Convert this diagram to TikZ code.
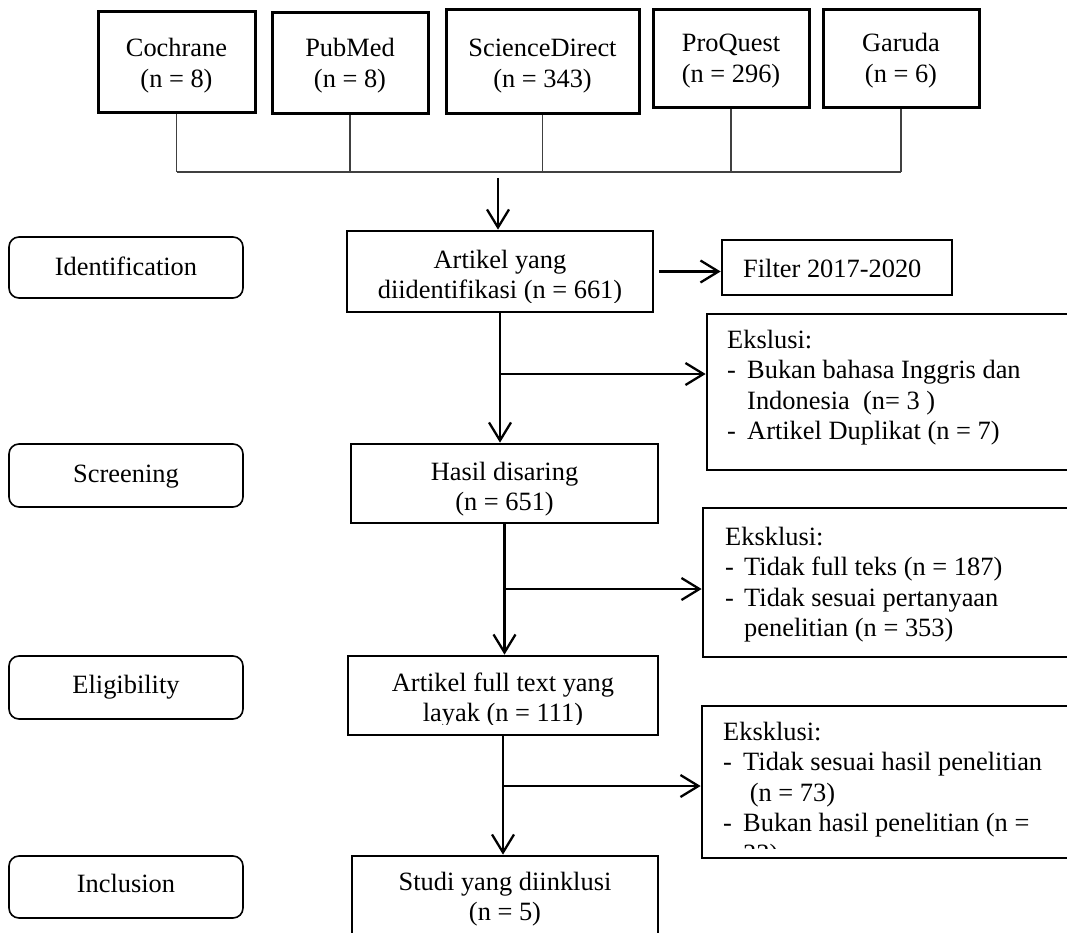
\documentclass[tikz,border=0pt]{standalone}
\usepackage{fontspec}
\setmainfont{Liberation Serif}
\usetikzlibrary{arrows.meta,fit}
\newcommand\twol[2]{\begin{tabular}[t]{@{}c@{}}#1\\#2\end{tabular}}
\begin{document}
\begin{tikzpicture}[x=1pt,y=-1pt,
  txt/.style={inner sep=0pt, anchor=base, font=\fontsize{26.4}{30.6}\selectfont},
  ltxt/.style={txt, anchor=base west},
  srcbox/.style={draw, line width=3pt, inner sep=0pt},
  mainbox/.style={draw, line width=2.7pt, inner sep=0pt},
  stagebox/.style={draw, line width=1.6pt, rounded corners=10pt, inner sep=0pt},
  busline/.style={line width=1.3pt, draw=black!75},
  flow/.style={line width=2.3pt, -{Straight Barb[length=18pt,width=22pt,line width=2.3pt]}},
]
\clip (0,0) rectangle (1067,933);
\fill[white] (0,0) rectangle (1067,933);

% ---- source boxes
\node[srcbox, fit={(98,12)(255,113)}] (coch) {};
\node[txt] (coch-t) at (176.5,57) {\twol{Cochrane}{(n = 8)}};
\node[srcbox, fit={(272,13)(428,114)}] (pub) {};
\node[txt] (pub-t) at (350,57) {\twol{PubMed}{(n = 8)}};
\node[srcbox, fit={(446,10)(639,114)}] (sci) {};
\node[txt] (sci-t) at (542.5,57) {\twol{ScienceDirect}{(n = 343)}};
\node[srcbox, fit={(653,10)(809,108)}] (pro) {};
\node[txt] (pro-t) at (731,52) {\twol{ProQuest}{(n = 296)}};
\node[srcbox, fit={(823,10)(979,108)}] (gar) {};
\node[txt] (gar-t) at (901,52) {\twol{Garuda}{(n = 6)}};

% ---- bus
\coordinate (busL) at (176.5,172);
\coordinate (busR) at (901,172);
\draw[busline] (busL) -- (busR);
\draw[busline] (coch.south) -- (coch.south |- busL);
\draw[busline] (pub.south) -- (pub.south |- busL);
\draw[busline] (sci.south) -- (sci.south |- busL);
\draw[busline] (pro.south) -- (pro.south |- busL);
\draw[busline] (gar.south) -- (gar.south |- busL);

% ---- stage boxes
\node[stagebox, fit={(9,237)(243,298)}] (st1) {};
\node[txt] (st1-t) at (126,275) {Identification};
\node[stagebox, fit={(9,444)(243,507)}] (st2) {};
\node[txt] (st2-t) at (126,482) {Screening};
\node[stagebox, fit={(9,656)(243,719)}] (st3) {};
\node[txt] (st3-t) at (126,693) {Eligibility};
\node[stagebox, fit={(9,856)(243,918)}] (st4) {};
\node[txt] (st4-t) at (126,892) {Inclusion};

% ---- main boxes
\node[mainbox, fit={(347,231)(653,312)}] (art) {};
\begin{scope}
\clip (347,231) rectangle (653,302.5);
\node[txt] (art-t) at (500,268) {\twol{Artikel yang}{diidentifikasi (n = 661)}};
\end{scope}
\node[mainbox, fit={(351,444)(658,523)}] (has) {};
\node[txt] (has-t) at (504.5,480) {\twol{Hasil disaring}{(n = 651)}};
\node[mainbox, fit={(348,656)(658,735)}] (ful) {};
\begin{scope}
\clip (348,656) rectangle (658,724);
\node[txt] (ful-t) at (503,691) {\twol{Artikel full text yang}{layak (n = 111)}};
\end{scope}
\node[mainbox, fit={(352,856)(658,960)}] (stu) {};
\node[txt] (stu-t) at (505,890) {\twol{Studi yang diinklusi}{(n = 5)}};

% ---- filter box
\node[mainbox, fit={(722,240)(952,295)}] (fil) {};
\node[ltxt] (fil-t) at (743,277) {Filter 2017-2020};

% ---- exclusion boxes
\node[mainbox, fit={(707,314)(1090,470)}] (ex1) {};
\node[ltxt] (ex1-t) at (727,348) {\begin{tabular}[t]{@{}l@{}}Ekslusi:\\
\makebox[20pt][l]{-}Bukan bahasa Inggris dan\\
\hspace*{20pt}Indonesia\ \ (n= 3 )\\
\makebox[20pt][l]{-}Artikel Duplikat (n = 7)\end{tabular}};

\node[mainbox, fit={(703,508)(1090,657)}] (ex2) {};
\node[ltxt] (ex2-t) at (725,545) {\begin{tabular}[t]{@{}l@{}}Eksklusi:\\
\makebox[19pt][l]{-}Tidak full teks (n = 187)\\
\makebox[19pt][l]{-}Tidak sesuai pertanyaan\\
\hspace*{19pt}penelitian (n = 353)\end{tabular}};

\node[mainbox, fit={(702,706)(1090,858)}] (ex3) {};
\begin{scope}
\clip (702,706) rectangle (1067,848);
\node[ltxt] (ex3-t) at (723,740) {\begin{tabular}[t]{@{}l@{}}Eksklusi:\\
\makebox[20pt][l]{-}Tidak sesuai hasil penelitian\\
\hspace*{20pt}\ (n = 73)\\
\makebox[20pt][l]{-}Bukan hasil penelitian (n =\\
\hspace*{20pt}33)\end{tabular}};
\end{scope}

% ---- flow connectors
\coordinate (busdn) at (498,178);
\draw[flow] (busdn) -- (busdn |- art.north);
\draw[flow] ([xshift=5pt]art.east) -- (art.east -| fil.west);

\draw[flow] (art.south) -- (art.south |- has.north);
\coordinate (b1) at (500,374);
\draw[flow] (b1) -- (b1 -| ex1.west);

\draw[flow] (has.south) -- (has.south |- ful.north);
\coordinate (b2) at (504.5,589);
\draw[flow] (b2) -- (b2 -| ex2.west);

\draw[flow] (ful.south) -- (ful.south |- stu.north);
\coordinate (b3) at (503,786);
\draw[flow] (b3) -- (b3 -| ex3.west);
\end{tikzpicture}
\end{document}
